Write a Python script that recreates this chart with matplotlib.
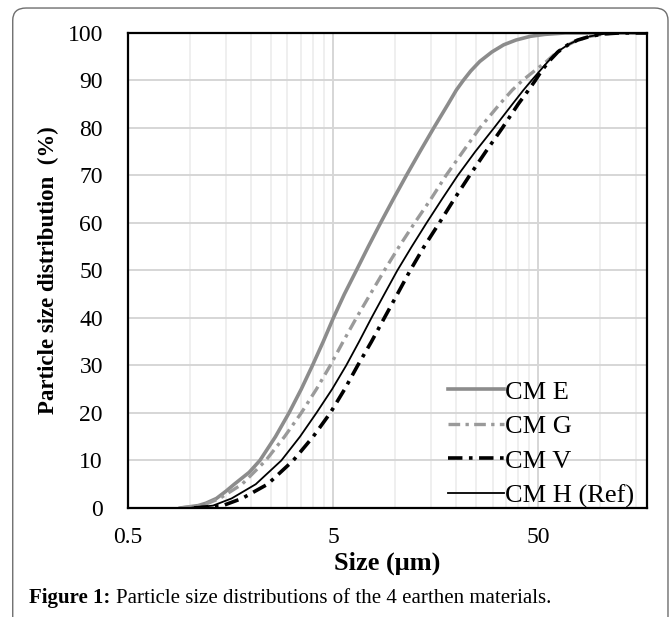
import matplotlib
matplotlib.use("Agg")
import matplotlib.pyplot as plt
from matplotlib.patches import FancyBboxPatch
from matplotlib.ticker import FixedLocator, NullFormatter

plt.rcParams["font.family"] = ["Liberation Serif", "DejaVu Serif"]

# Particle size (um) vs cumulative passing (%)
size_e = [0.9, 1.1, 1.2, 1.35, 1.5, 1.65, 1.95, 2.2, 2.62, 3.05, 3.5, 3.97, 4.48, 5.02, 5.68, 6.5,
          7.43, 8.53, 9.84, 11.4, 13.27, 15.5, 18.2, 20.0, 21.6, 23.5, 26.0, 29.8, 34.0, 39.0, 46.0,
          54.0, 68.0, 170.0]
pct_e  = [0, 0.5, 1, 2, 3.5, 5, 7.5, 10, 15, 20, 25, 30, 35, 40, 45, 50,
          55, 60, 65, 70, 75, 80, 85, 88, 90, 92, 94, 96, 97.5, 98.5, 99.3,
          99.7, 100, 100]

size_g = [0.9, 1.15, 1.4, 1.8, 2.35, 2.9, 3.5, 4.15, 4.85, 5.6, 6.5, 7.6, 8.9, 10.5, 12.5, 15.0,
          17.8, 21.5, 26.0, 32.5, 37.5, 42.0, 48.0, 55.0, 62.0, 70.0, 78.0, 90.0, 105.0, 125.0, 170.0]
pct_g  = [0, 0.5, 2, 5, 10, 15, 20, 25, 30, 35, 40, 45, 50, 55, 60, 65,
          70, 75, 80, 85, 88, 90, 92, 94, 96, 97.5, 98.5, 99.3, 99.8, 100, 100]

size_v = [1.05, 1.45, 1.8, 2.4, 3.2, 4.0, 4.85, 5.7, 6.6, 7.7, 8.9, 10.3, 11.9, 13.9, 16.5, 19.5,
          23.2, 27.8, 33.5, 40.0, 45.0, 48.5, 52.0, 56.5, 62.5, 70.0, 78.0, 90.0, 105.0, 125.0, 170.0]
pct_v  = [0, 0.5, 2, 5, 10, 15, 20, 25, 30, 35, 40, 45, 50, 55, 60, 65,
          70, 75, 80, 85, 88, 90, 92, 94, 96, 97.5, 98.5, 99.3, 99.8, 100, 100]

size_h = [1.0, 1.3, 1.6, 2.1, 2.8, 3.45, 4.15, 4.95, 5.8, 6.7, 7.7, 8.9, 10.3, 12.1, 14.3, 17.0,
          20.3, 24.7, 30.5, 37.5, 42.5, 46.5, 51.0, 56.0, 62.0, 70.0, 78.0, 90.0, 105.0, 125.0, 170.0]
pct_h  = [0, 0.5, 2, 5, 10, 15, 20, 25, 30, 35, 40, 45, 50, 55, 60, 65,
          70, 75, 80, 85, 88, 90, 92, 94, 96, 97.5, 98.5, 99.3, 99.8, 100, 100]

x_major = [0.5, 5, 50]
x_minor = [1, 1.5, 2, 2.5, 3, 3.5, 4, 4.5, 10, 15, 20, 25, 30, 35, 40, 45, 100, 150]

fig = plt.figure(figsize=(6.7, 6.17), dpi=100)
ax = fig.add_axes([0.191, 0.1767, 0.7746, 0.7699])

ax.plot(size_e, pct_e, color="#8c8c8c", lw=2.6, label="CM E")
ax.plot(size_g, pct_g, color="#9a9a9a", lw=2.4, dashes=(3.5, 1.6, 1, 1.6), label="CM G")
ax.plot(size_v, pct_v, color="black", lw=2.6, dashes=(4, 1.8, 1, 1.8), label="CM V")
ax.plot(size_h, pct_h, color="black", lw=1.3, label="CM H (Ref)")

ax.set_xscale("log")
ax.set_xlim(0.5, 170)
ax.set_ylim(0, 100)
ax.xaxis.set_major_locator(FixedLocator(x_major))
ax.xaxis.set_minor_locator(FixedLocator(x_minor))
ax.xaxis.set_minor_formatter(NullFormatter())
ax.set_xticklabels(["0.5", "5", "50"])
ax.set_yticks(range(0, 101, 10))

ax.grid(which="major", color="#d6d6d6", lw=1.4)
ax.grid(which="minor", axis="x", color="#ececec", lw=1.2)
ax.set_axisbelow(True)
ax.tick_params(which="both", length=0)
ax.tick_params(axis="x", pad=14, labelsize=17)
ax.tick_params(axis="y", pad=18, labelsize=17)
for s in ax.spines.values():
    s.set_linewidth(1.6)

ax.set_xlabel("Size (\u03bcm)", fontsize=19, fontweight="bold", labelpad=2)
ax.set_ylabel("Particle size distribution  (%)", fontsize=16.5, fontweight="bold", labelpad=6)

ax.legend(loc="lower right", bbox_to_anchor=(1.0, -0.027), frameon=False, fontsize=19,
          handlelength=2.1, handletextpad=0.03, labelspacing=0.42, borderaxespad=0.1)

# caption: bold "Figure 1:" followed by the regular text
cap1 = fig.text(0.043, 0.03, "Figure 1:", fontsize=15, fontweight="bold", va="center")
fig.canvas.draw()
bb = cap1.get_window_extent().transformed(fig.transFigure.inverted())
fig.text(bb.x1 + 0.008, 0.03, "Particle size distributions of the 4 earthen materials.",
         fontsize=15, va="center")

border = FancyBboxPatch((0.019, -0.05), 0.978, 1.037, boxstyle="round,pad=0,rounding_size=0.02",
                        transform=fig.transFigure, fill=False, ec="#6e6e6e", lw=1.0, clip_on=False)
fig.patches.append(border)

fig.savefig("out.png", dpi=100)
